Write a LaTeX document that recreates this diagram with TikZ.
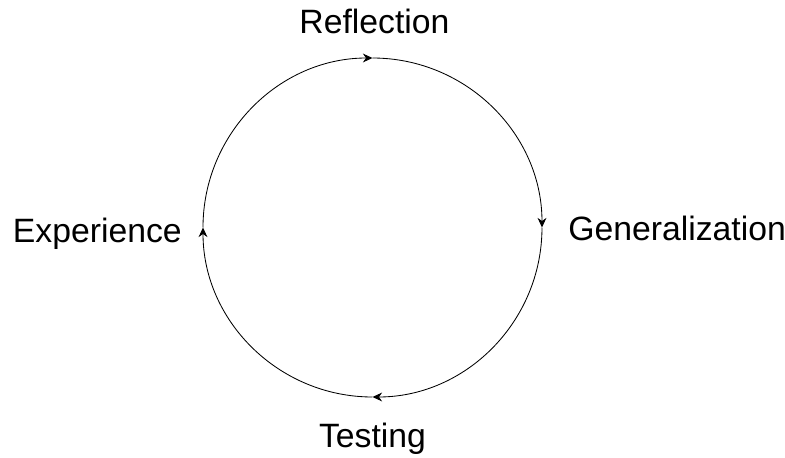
\documentclass[tikz,border=0pt]{standalone}
\usepackage{fontspec}
\setmainfont{Liberation Sans}
\usepackage{tikz}
\usetikzlibrary{arrows.meta,positioning}

\begin{document}
\begin{tikzpicture}[every node/.style={font=\fontsize{24}{29}\selectfont,inner sep=0pt},
    cycarc/.style={line width=0.6pt,-{Stealth[length=2.4mm,width=2.2mm]}}]
        \useasboundingbox (-9.3125,-5.7375) rectangle (10.3125,5.6875);
        \coordinate (ctr) at (0,0);
        \coordinate (top) at (90:4.2375);
        \coordinate (rgt) at (0:4.2375);
        \coordinate (bot) at (270:4.2375);
        \coordinate (lft) at (180:4.2375);
        \node[anchor=base] (reflection) at (0.05,4.8625) {Reflection};
        \node[anchor=base west] (generalization) at (4.8875,-0.3125) {Generalization};
        \node[anchor=base] (testing) at (0,-5.4875) {Testing};
        \node[anchor=base east] (experience) at (-4.7625,-0.3625) {Experience};
        \draw[cycarc] (lft) arc[start angle=180,end angle=90,radius=4.2375];
        \draw[cycarc] (top) arc[start angle=90,end angle=0,radius=4.2375];
        \draw[cycarc] (rgt) arc[start angle=0,end angle=-90,radius=4.2375];
        \draw[cycarc] (bot) arc[start angle=-90,end angle=-180,radius=4.2375];
    \end{tikzpicture}
\end{document}
